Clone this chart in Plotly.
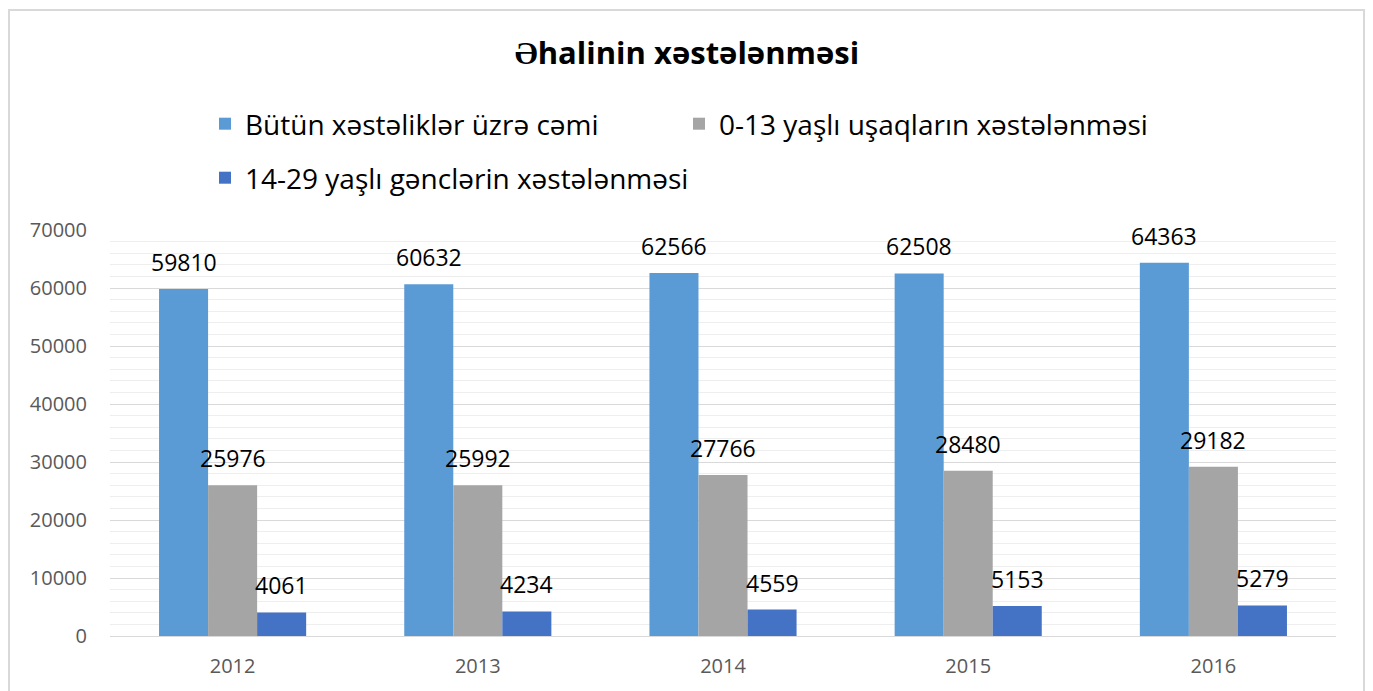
import plotly.graph_objects as go

years = ["2012", "2013", "2014", "2015", "2016"]
total = [59810, 60632, 62566, 62508, 64363]
children = [25976, 25992, 27766, 28480, 29182]
youth = [4061, 4234, 4559, 5153, 5279]

series_names = [
    "Bütün xəstəliklər üzrə cəmi",
    "0-13 yaşlı uşaqların xəstələnməsi",
    "14-29 yaşlı gənclərin xəstələnməsi",
]
series_values = [total, children, youth]
colors = ["#5B9BD5", "#A5A5A5", "#4472C4"]
legend_ids = ["legend", "legend2", "legend3"]

# page body has an 8px margin, so the figure is sized to the visible window
W, H = 1365, 683
ML, MR, MT, MB = 102, 37, 222, 55
BARGAP = 0.4
FONT = "Open Sans"

fig = go.Figure()
for name, vals, col, lg in zip(series_names, series_values, colors, legend_ids):
    fig.add_trace(go.Bar(
        x=years, y=vals, name=name, marker=dict(color=col, line=dict(width=0)),
        legend=lg, showlegend=True, hoverinfo="x+y+name",
    ))

plot_w = W - ML - MR
bar_px = plot_w / len(years) * (1 - BARGAP) / len(series_values)
annotations = []
for i, vals in enumerate(series_values):
    for j, v in enumerate(vals):
        annotations.append(dict(
            x=j, y=v, xref="x", yref="y", text=str(v), showarrow=False,
            xshift=(i - 1) * bar_px, yshift=27, yanchor="middle",
            font=dict(family=FONT, size=23, color="#000000"),
        ))

# chart border (in paper coords derived from margins)
plot_h = H - MT - MB
x0 = (1 - ML) / plot_w
x1 = (1356 - ML) / plot_w
y1 = (H - 2 - MB) / plot_h
y0 = (0 - MB) / plot_h - 0.05

legend_common = dict(
    orientation="h", xref="container", yref="container", xanchor="left", yanchor="middle",
    font=dict(family=FONT, size=28, color="#000000"), bgcolor="rgba(0,0,0,0)", borderwidth=0,
)

fig.update_layout(
    width=W, height=H,
    margin=dict(l=ML, r=MR, t=MT, b=MB, autoexpand=False),
    paper_bgcolor="white", plot_bgcolor="white",
    barmode="group", bargap=BARGAP, bargroupgap=0,
    font=dict(family=FONT),
    showlegend=True,
    title=dict(text="<b>Əhalinin xəstələnməsi</b>", x=679 / W, xref="container", xanchor="center",
               y=1 - 45 / H, yref="container", yanchor="middle",
               font=dict(family=FONT, size=31, color="#000000")),
    legend=dict(x=197 / W, y=1 - 116 / H, **legend_common),
    legend2=dict(x=671 / W, y=1 - 116 / H, **legend_common),
    legend3=dict(x=197 / W, y=1 - 170 / H, **legend_common),
    annotations=annotations,
    shapes=[dict(type="rect", xref="paper", yref="paper", x0=x0, x1=x1, y0=y0, y1=y1,
                 line=dict(color="#D9D9D9", width=2), layer="below")],
    xaxis=dict(type="category", range=[-0.5, len(years) - 0.5], automargin=False,
               showgrid=False, showline=False, ticks="", ticklabelstandoff=16,
               tickfont=dict(family=FONT, size=20, color="#595959")),
    yaxis=dict(range=[0, 70000], dtick=10000, tickformat="d", automargin=False, showgrid=True,
               gridcolor="#D9D9D9", gridwidth=1,
               zeroline=True, zerolinecolor="#D9D9D9", zerolinewidth=1,
               minor=dict(dtick=2000, showgrid=True, gridcolor="#EEEEEE", gridwidth=1),
               ticks="", ticklabelstandoff=22, showline=False,
               tickfont=dict(family=FONT, size=20, color="#595959")),
)

fig.write_html("out.html")
